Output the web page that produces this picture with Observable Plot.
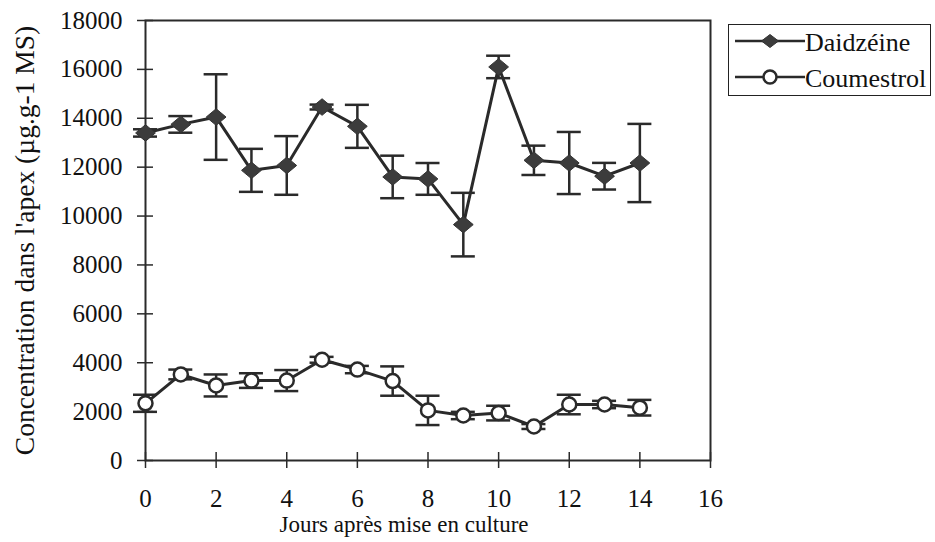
<!DOCTYPE html>
<html>
<head>
<meta charset="utf-8">
<script src="https://cdn.jsdelivr.net/npm/d3@7"></script>
<script src="https://cdn.jsdelivr.net/npm/@observablehq/plot@0.6"></script>
<style>
  html, body { margin: 0; padding: 0; background: #fff; }
  #wrap { position: relative; width: 935px; height: 542px; }
  #wrap, #wrap * { font-family: "Liberation Serif" !important; }
  #wrap svg text { fill: #111; }
  #wrap svg g[aria-label$="tick label"] text { font-size: 25px; }
  #wrap svg g[aria-label="y-axis label"] text { font-size: 27.5px; }
  #wrap svg g[aria-label="x-axis label"] text { font-size: 23px; }
  #legend { position: absolute; left: 728px; top: 24px; width: 203px; height: 72px; border: 1.5px solid #222; box-sizing: border-box; }
  .row { position: absolute; left: 6px; height: 30px; display: flex; align-items: center; }
  .row svg { display: block; }
  .row span { font-size: 26px; line-height: 30px; color: #111; position: relative; top: 2.5px; }
</style>
</head>
<body>
<div id="wrap"></div>
<script>
// Data
const days = [0, 1, 2, 3, 4, 5, 6, 7, 8, 9, 10, 11, 12, 13, 14];
const daidzeine = [13400, 13750, 14050, 11870, 12070, 14460, 13670, 11600, 11520, 9650, 16100, 12280, 12170, 11630, 12170];
const daidzeineErr = [150, 340, 1750, 880, 1200, 100, 880, 870, 650, 1300, 460, 600, 1270, 545, 1600];
const coumestrol = [2340, 3520, 3070, 3270, 3270, 4120, 3720, 3250, 2050, 1840, 1940, 1390, 2290, 2290, 2160];
const coumestrolErr = [350, 200, 450, 300, 430, 120, 150, 600, 600, 150, 300, 100, 400, 150, 320];
const xTicks = [0, 2, 4, 6, 8, 10, 12, 14, 16];
const yTicks = [0, 2000, 4000, 6000, 8000, 10000, 12000, 14000, 16000, 18000];
const seriesNames = ["Daidzéine", "Coumestrol"];
const yLabel = "Concentration dans l'apex (µg.g-1 MS)";
const xLabel = "Jours après mise en culture";

const dData = days.map((d, i) => ({x: d, y: daidzeine[i], e: daidzeineErr[i]}));
const cData = days.map((d, i) => ({x: d, y: coumestrol[i], e: coumestrolErr[i]}));
const capHalf = 0.34;
const ink = "#2a2a2a";

// slightly wider-than-tall diamond, like the reference markers
const wideDiamond = {
  draw(context, size) {
    const r = Math.sqrt(size / Math.PI);
    const w = r * 1.1, h = r * 0.92;
    context.moveTo(0, -h);
    context.lineTo(w, 0);
    context.lineTo(0, h);
    context.lineTo(-w, 0);
    context.closePath();
  }
};

function errMarks(data) {
  return [
    Plot.ruleX(data, {x: "x", y1: d => d.y - d.e, y2: d => d.y + d.e, stroke: ink, strokeWidth: 2.5}),
    Plot.ruleY(data, {y: d => d.y + d.e, x1: d => d.x - capHalf, x2: d => d.x + capHalf, stroke: ink, strokeWidth: 2.5}),
    Plot.ruleY(data, {y: d => d.y - d.e, x1: d => d.x - capHalf, x2: d => d.x + capHalf, stroke: ink, strokeWidth: 2.5})
  ];
}

const chart = Plot.plot({
  width: 935,
  height: 542,
  marginLeft: 145,
  marginRight: 225,
  marginTop: 20,
  marginBottom: 82,
  style: {fontFamily: "Liberation Serif", fontSize: "24px", color: "#111", background: "#fff"},
  x: {domain: [0, 16]},
  y: {domain: [0, 18000]},
  marks: [
    Plot.frame({stroke: ink, strokeWidth: 2}),
    Plot.axisY({ticks: yTicks, tickSize: 8, tickPadding: 15, tickFormat: d => String(d), label: yLabel, labelAnchor: "center", labelArrow: "none", labelOffset: 131, stroke: ink, strokeWidth: 1.5}),
    Plot.axisY({ticks: yTicks, tickSize: -8, tickFormat: () => "", label: null, stroke: ink, strokeWidth: 1.5}),
    Plot.axisX({ticks: xTicks, tickSize: 8, tickPadding: 21, tickFormat: d => String(d), label: xLabel, labelAnchor: "center", labelArrow: "none", labelOffset: 71, stroke: ink, strokeWidth: 1.5}),
    Plot.axisX({ticks: xTicks, tickSize: -8, tickFormat: () => "", label: null, stroke: ink, strokeWidth: 1.5}),
    ...errMarks(dData),
    ...errMarks(cData),
    Plot.line(dData, {x: "x", y: "y", stroke: ink, strokeWidth: 3}),
    Plot.line(cData, {x: "x", y: "y", stroke: ink, strokeWidth: 3}),
    Plot.dot(dData, {x: "x", y: "y", symbol: wideDiamond, r: 9, fill: "#3c3c3c", stroke: "#333", strokeWidth: 1}),
    Plot.dot(cData, {x: "x", y: "y", symbol: "circle", r: 7, fill: "#fff", stroke: ink, strokeWidth: 2.5})
  ]
});

// strip any automatic label arrows
chart.querySelectorAll("text").forEach(t => {
  if (/[→↑]/.test(t.textContent)) t.textContent = t.textContent.replace(/\s*[→↑]\s*/g, "");
});
// the reference's x title sits a little left of the frame centre
const xLab = chart.querySelector('g[aria-label="x-axis label"]');
if (xLab) {
  const tr = xLab.getAttribute("transform") || "";
  xLab.setAttribute("transform", (tr + " translate(-24,0)").trim());
}

const wrap = document.getElementById("wrap");
wrap.appendChild(chart);

// Legend (HTML overlay at the top right)
const legend = document.createElement("div");
legend.id = "legend";
const symbols = [
  `<svg width="70" height="30"><line x1="0" y1="15" x2="70" y2="15" stroke="${ink}" stroke-width="2.5"/><path d="M35,8.5L43.5,15L35,21.5L26.5,15Z" fill="#3c3c3c" stroke="#333"/></svg>`,
  `<svg width="70" height="30"><line x1="0" y1="15" x2="70" y2="15" stroke="${ink}" stroke-width="2.5"/><circle cx="35" cy="15" r="6.5" fill="#fff" stroke="${ink}" stroke-width="2.5"/></svg>`
];
const rowTops = [0.5, 36.5];
seriesNames.forEach((name, i) => {
  const row = document.createElement("div");
  row.className = "row";
  row.style.top = rowTops[i] + "px";
  row.innerHTML = symbols[i] + `<span>${name}</span>`;
  legend.appendChild(row);
});
wrap.appendChild(legend);
</script>
</body>
</html>
